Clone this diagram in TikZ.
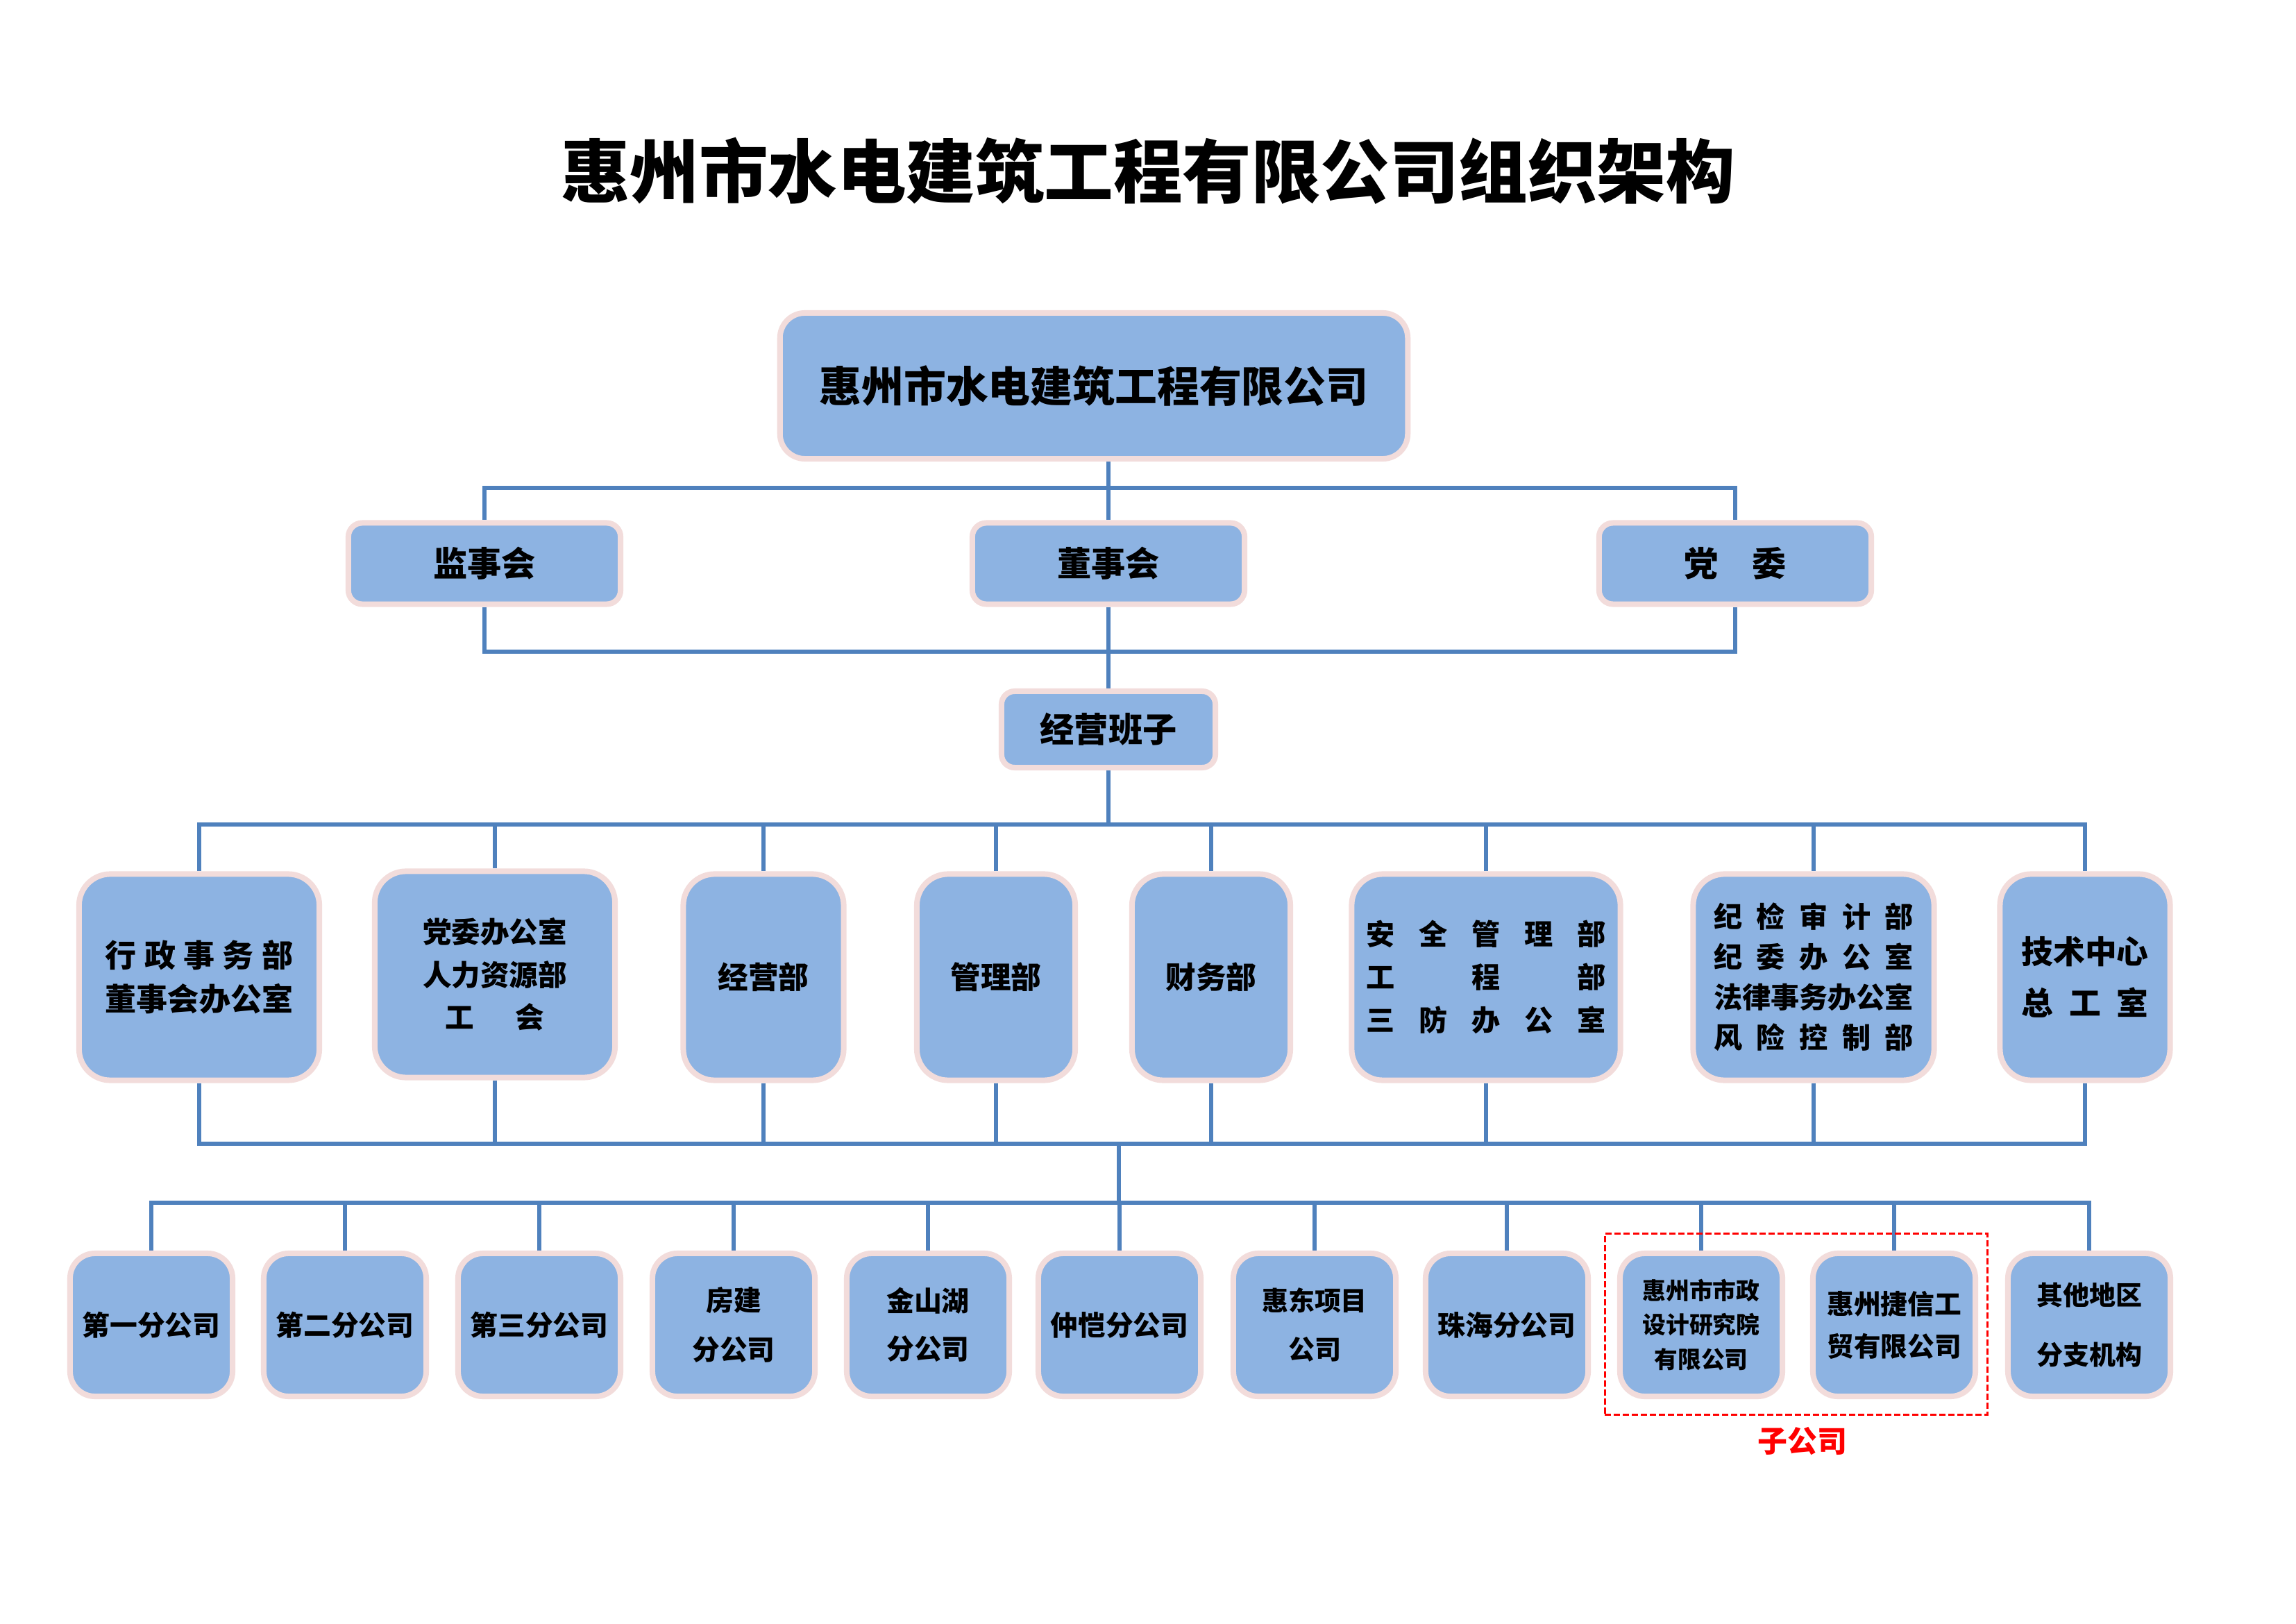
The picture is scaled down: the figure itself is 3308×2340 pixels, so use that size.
\documentclass[tikz,border=0pt]{standalone}
\usepackage{fontspec}
\newfontfamily\cjk{Noto Sans CJK SC}
\usetikzlibrary{backgrounds}
\definecolor{boxblue}{HTML}{8DB3E2}
\definecolor{boxpink}{HTML}{F2DCDB}
\definecolor{linkblue}{HTML}{4F81BD}
\newcommand\fsz[2]{\fontsize{#1}{#2}\selectfont}
\tikzset{
  orgbox/.style={draw=boxpink, fill=boxblue, line width=0.08cm, rounded corners=#1,
    inner sep=0pt, align=center, text=black},
  orgbox/.default=0.36cm,
  fnt/.style 2 args={font=\cjk\bfseries\fsz{#1}{#2}},
  toprow/.style={orgbox=0.2cm, minimum width=3.92cm, minimum height=1.17cm, fnt={14}{16}},
  dept/.style={orgbox=0.45cm, minimum height=2.97cm},
  branch/.style={orgbox=0.36cm, minimum width=2.34cm, minimum height=2.06cm},
  conn/.style={draw=linkblue, line width=0.065cm},
}
\begin{document}
\begin{tikzpicture}[x=0.01cm,y=-0.01cm]
\useasboundingbox (0,0) rectangle (3308,2340);
% title
\node[fnt={28.3}{32}, inner sep=0pt] (title) at (1654,246) {惠州市水电建筑工程有限公司组织架构};
% level 1
\node[orgbox=0.36cm, minimum width=9.04cm, minimum height=2.10cm, fnt={17.3}{20}] (top) at (1576,556) {惠州市水电建筑工程有限公司};
% level 2
\node[toprow] (jsh) at (698,812) {监事会};
\node[toprow] (dsh) at (1597,812) {董事会};
\node[toprow] (dw) at (2500,812) {党\hspace{1em}委};
% level 3
\node[orgbox=0.19cm, minimum width=3.08cm, minimum height=1.10cm, fnt={14}{16}] (jy) at (1597,1051) {经营班子};
% departments
\node[dept, minimum width=3.46cm, fnt={12.8}{17.9}] (d1) at (287,1408)
  {\makebox[6em][s]{行\hfill 政\hfill 事\hfill 务\hfill 部}\\董事会办公室};
\node[dept, minimum width=3.46cm, fnt={11.8}{17.6}] (d2) at (713,1404)
  {党委办公室\\人力资源部\\工\hspace{1.43em}会};
\node[dept, minimum width=2.31cm, fnt={12.4}{15}] (d3) at (1100,1408) {经营部};
\node[dept, minimum width=2.28cm, fnt={12.4}{15}] (d4) at (1435,1408) {管理部};
\node[dept, minimum width=2.28cm, fnt={12.4}{15}] (d5) at (1745,1408) {财务部};
\node[dept, minimum width=3.87cm, fnt={11.7}{17.6}] (d6) at (2141,1408)
  {\makebox[8.4em][s]{安\hfill 全\hfill 管\hfill 理\hfill 部}\\
   \makebox[8.4em][s]{工\hfill 程\hfill 部}\\
   \makebox[8.4em][s]{三\hfill 防\hfill 办\hfill 公\hfill 室}};
\node[dept, minimum width=3.47cm, fnt={11.7}{16.5}] (d7) at (2613,1408)
  {\makebox[7em][s]{纪\hfill 检\hfill 审\hfill 计\hfill 部}\\
   \makebox[7em][s]{纪\hfill 委\hfill 办\hfill 公\hfill 室}\\
   法律事务办公室\\
   \makebox[7em][s]{风\hfill 险\hfill 控\hfill 制\hfill 部}};
\node[dept, minimum width=2.45cm, fnt={13}{21}] (d8) at (3004,1408)
  {技术中心\\\makebox[4em][s]{总\hfill 工\hfill 室}};
% branches
\node[branch, fnt={11.3}{14}] (s1) at (218,1909) {第一分公司};
\node[branch, fnt={11.3}{14}] (s2) at (497,1909) {第二分公司};
\node[branch, fnt={11.3}{14}] (s3) at (777,1909) {第三分公司};
\node[branch, fnt={11.3}{20}] (s4) at (1057,1909) {房建\\分公司};
\node[branch, fnt={11.3}{19.5}] (s5) at (1337,1909) {金山湖\\分公司};
\node[branch, fnt={11.3}{14}] (s6) at (1613,1909) {仲恺分公司};
\node[branch, fnt={10.8}{20}] (s7) at (1894,1909) {惠东项目\\公司};
\node[branch, fnt={11.3}{14}] (s8) at (2171,1909) {珠海分公司};
\node[branch, fnt={9.6}{14.2}] (s9) at (2451,1909) {惠州市市政\\设计研究院\\有限公司};
\node[branch, fnt={11}{17.4}] (s10) at (2729,1909) {惠州捷信工\\贸有限公司};
\node[branch, fnt={10.8}{24.5}] (s11) at (3010,1909) {其他地区\\分支机构};
% subsidiary frame
\node[draw=red, line width=0.03cm, dash pattern=on 0.09cm off 0.04cm, inner sep=0pt,
      minimum width=5.51cm, minimum height=2.60cm] (subbox) at (2588,1908) {};
\node[fnt={12.2}{14}, text=red, inner sep=0pt] (sublabel) at (2597,2077) {子公司};
% connectors
\begin{pgfonlayer}{background}
\fill[white] (0,0) rectangle (3308,2340);
\coordinate (b1) at (1597,703);
\coordinate (b2) at (1597,939);
\coordinate (b3) at (1597,1188);
\coordinate (b4) at (1612,1648);
\coordinate (b5) at (1612,1733);
\draw[conn] (top.south -| dsh.north) -- (dsh.north);
\draw[conn] (jsh.north) |- (b1) -| (dw.north);
\draw[conn] (jsh.south) |- (b2) -| (dw.south);
\draw[conn] (dsh.south) -- (jy.north);
\draw[conn] (jy.south) -- (b3);
\draw[conn] (d1.north) |- (b3) -| (d8.north);
\foreach \n in {2,...,7} {\draw[conn] (d\n.north) -- (d\n.north |- b3);}
\draw[conn] (d1.south) |- (b4) -| (d8.south);
\foreach \n in {2,...,7} {\draw[conn] (d\n.south) -- (d\n.south |- b4);}
\draw[conn] (b4) -- (b5);
\draw[conn] (s1.north) |- (b5) -| (s11.north);
\foreach \n in {2,...,10} {\draw[conn] (s\n.north) -- (s\n.north |- b5);}
\end{pgfonlayer}
\end{tikzpicture}
\end{document}
